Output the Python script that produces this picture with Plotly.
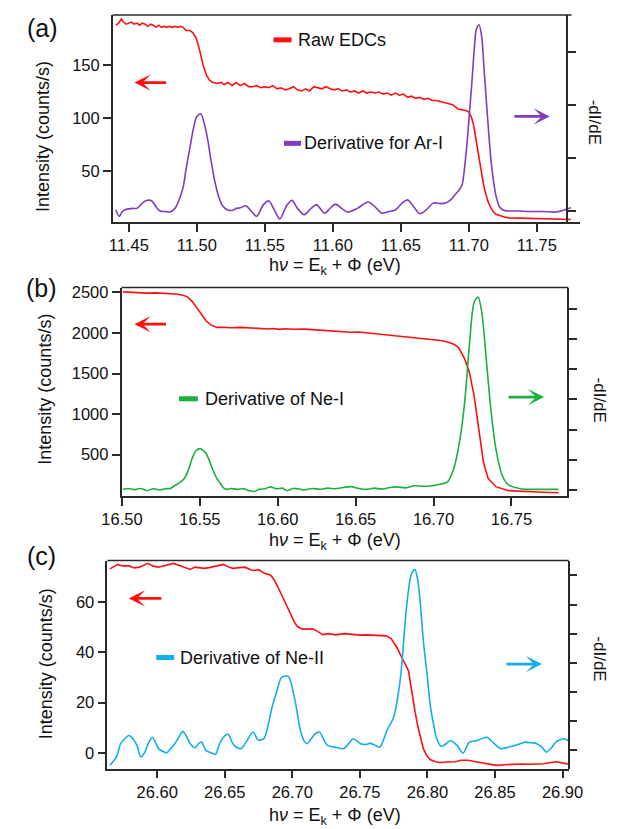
import plotly.graph_objects as go

W, H = 631, 829

# ---------------- data: (a) Ar-I ----------------
ar_raw_x = [11.4405, 11.4425, 11.4445, 11.4460, 11.4480, 11.4500, 11.4520, 11.4540, 11.4560, 11.4580,
            11.4600, 11.4620, 11.4640, 11.4660, 11.4680, 11.4700, 11.4720, 11.4740, 11.4760, 11.4780,
            11.4800, 11.4820, 11.4840, 11.4860, 11.4880, 11.4900, 11.4920, 11.4950, 11.4970, 11.4995,
            11.5020, 11.5045, 11.5070, 11.5095, 11.5120, 11.5150, 11.5180, 11.5200, 11.5230, 11.5260,
            11.5290, 11.5320, 11.5350, 11.5380, 11.5410, 11.5440, 11.5470, 11.5500, 11.5530, 11.5560,
            11.5590, 11.5620, 11.5650, 11.5680, 11.5710, 11.5740, 11.5770, 11.5800, 11.5830, 11.5860,
            11.5890, 11.5920, 11.5950, 11.5980, 11.6010, 11.6040, 11.6070, 11.6100, 11.6130, 11.6160,
            11.6190, 11.6220, 11.6250, 11.6280, 11.6310, 11.6340, 11.6370, 11.6400, 11.6430, 11.6460,
            11.6490, 11.6520, 11.6550, 11.6580, 11.6610, 11.6640, 11.6670, 11.6700, 11.6730, 11.6760,
            11.6790, 11.6820, 11.6850, 11.6880, 11.6920, 11.6950, 11.6980, 11.7000, 11.7020, 11.7035,
            11.7050, 11.7070, 11.7090, 11.7105, 11.7120, 11.7140, 11.7160, 11.7180, 11.7200, 11.7230,
            11.7260, 11.7300, 11.7400, 11.7500, 11.7600, 11.7700, 11.7750]
ar_raw_y = [188, 190, 194, 191, 189, 190, 191, 189, 190, 188,
            190, 189, 187, 189, 188, 186, 188, 186, 187, 186,
            187, 186, 187, 186, 187, 186, 183, 183, 181, 176,
            165, 151, 141, 136, 134, 133, 134, 132, 134, 131,
            134, 131, 133, 130, 130, 131, 129, 130, 129, 131,
            128, 129, 127, 128, 130, 127, 126, 128, 126, 130,
            129, 128, 130, 128, 127, 128, 126, 127, 125, 126,
            124, 126, 124, 125, 124, 125, 123, 124, 122, 124,
            122, 123, 120, 121, 119, 120, 118, 119, 117, 117,
            116, 115, 114, 113, 109, 108, 107.5, 106, 101, 94,
            82, 68, 52, 40, 31, 22, 16, 12, 9.5, 8,
            7, 6.2, 5.8, 5.5, 5.2, 5, 4.6]

ar_deriv_x = [11.4405, 11.4430, 11.4450, 11.4470, 11.4500, 11.4530, 11.4560, 11.4600, 11.4630, 11.4670,
              11.4700, 11.4730, 11.4770, 11.4800, 11.4840, 11.4870, 11.4900, 11.4920, 11.4950, 11.4975,
              11.5000, 11.5030, 11.5055, 11.5080, 11.5105, 11.5130, 11.5160, 11.5190, 11.5220, 11.5260,
              11.5290, 11.5320, 11.5360, 11.5400, 11.5440, 11.5490, 11.5530, 11.5570, 11.5610, 11.5660,
              11.5700, 11.5740, 11.5790, 11.5840, 11.5880, 11.5940, 11.5980, 11.6020, 11.6070, 11.6110,
              11.6180, 11.6260, 11.6310, 11.6360, 11.6410, 11.6460, 11.6510, 11.6550, 11.6600, 11.6640,
              11.6690, 11.6740, 11.6790, 11.6830, 11.6870, 11.6900, 11.6930, 11.6950, 11.6980, 11.7000,
              11.7020, 11.7040, 11.7055, 11.7075, 11.7095, 11.7110, 11.7130, 11.7150, 11.7165, 11.7185,
              11.7200, 11.7225, 11.7250, 11.7300, 11.7365, 11.7450, 11.7550, 11.7640, 11.7700, 11.7750]
ar_deriv_y = [0.02, -0.10, -0.02, 0.02, 0.04, 0.05, 0.05, 0.15, 0.20, 0.19,
              0.08, 0.00, -0.01, -0.02, 0.05, 0.21, 0.45, 0.77, 1.20, 1.55,
              1.78, 1.83, 1.65, 1.35, 0.95, 0.59, 0.28, 0.10, 0.03, 0.01,
              0.05, 0.06, 0.10, 0.00, -0.10, 0.12, 0.19, 0.02, -0.15, 0.10,
              0.20, 0.05, -0.07, 0.05, 0.12, -0.04, 0.05, 0.13, 0.04, -0.02,
              0.05, 0.17, 0.08, -0.04, -0.01, 0.02, 0.15, 0.21, 0.06, -0.05,
              0.03, 0.15, 0.14, 0.15, 0.22, 0.31, 0.40, 0.49, 1.09, 1.70,
              2.34, 3.05, 3.42, 3.51, 3.28, 2.75, 2.03, 1.35, 0.90, 0.50,
              0.28, 0.08, 0.02, 0.00, 0.00, -0.01, -0.01, -0.02, 0.02, 0.06]

# ---------------- data: (b) Ne-I ----------------
nei_raw_x = [16.5006, 16.5060, 16.5100, 16.5160, 16.5220, 16.5280, 16.5330, 16.5360, 16.5390, 16.5420,
             16.5450, 16.5480, 16.5510, 16.5540, 16.5570, 16.5610, 16.5650, 16.5700, 16.5760, 16.5820,
             16.5880, 16.5940, 16.5970, 16.6010, 16.6050, 16.6100, 16.6170, 16.6230, 16.6270, 16.6320,
             16.6370, 16.6420, 16.6470, 16.6520, 16.6580, 16.6640, 16.6700, 16.6780, 16.6840, 16.6900,
             16.6960, 16.7020, 16.7060, 16.7100, 16.7130, 16.7160, 16.7180, 16.7200, 16.7230, 16.7260,
             16.7290, 16.7320, 16.7350, 16.7400, 16.7480, 16.7580, 16.7700, 16.7803]
nei_raw_y = [2507, 2500, 2503, 2492, 2495, 2490, 2486, 2478, 2466, 2446,
             2390, 2315, 2230, 2151, 2100, 2069, 2070, 2065, 2069, 2062,
             2060, 2050, 2056, 2045, 2052, 2046, 2048, 2040, 2036, 2030,
             2028, 2020, 2010, 2012, 2000, 1992, 1985, 1960, 1950, 1940,
             1930, 1918, 1905, 1884, 1860, 1823, 1760, 1680, 1516, 1230,
             820, 410, 205, 103, 54, 42, 34, 29]

nei_deriv_x = [16.5006, 16.5040, 16.5080, 16.5120, 16.5160, 16.5200, 16.5240, 16.5280, 16.5310, 16.5340,
               16.5370, 16.5400, 16.5425, 16.5450, 16.5475, 16.5500, 16.5520, 16.5540, 16.5560, 16.5580,
               16.5605, 16.5630, 16.5650, 16.5670, 16.5700, 16.5740, 16.5780, 16.5820, 16.5850, 16.5880,
               16.5920, 16.5950, 16.5990, 16.6030, 16.6060, 16.6100, 16.6140, 16.6170, 16.6220, 16.6270,
               16.6320, 16.6370, 16.6420, 16.6470, 16.6520, 16.6570, 16.6620, 16.6670, 16.6720, 16.6770,
               16.6820, 16.6880, 16.6940, 16.7000, 16.7040, 16.7090, 16.7130, 16.7170, 16.7200, 16.7230,
               16.7260, 16.7286, 16.7310, 16.7340, 16.7370, 16.7400, 16.7440, 16.7470, 16.7504, 16.7550,
               16.7585, 16.7650, 16.7720, 16.7803]
nei_deriv_y = [0.02, 0.05, 0.01, 0.05, -0.02, 0.04, 0.00, 0.04, 0.05, 0.15,
               0.24, 0.38, 0.65, 1.04, 1.30, 1.37, 1.32, 1.21, 0.98, 0.71,
               0.42, 0.22, 0.08, 0.02, 0.05, 0.02, 0.04, -0.03, -0.05, 0.02,
               0.04, 0.10, 0.04, 0.06, -0.02, 0.05, 0.03, 0.00, 0.05, 0.02,
               0.06, 0.04, 0.08, 0.11, 0.05, 0.02, 0.06, 0.03, 0.08, 0.10,
               0.07, 0.14, 0.12, 0.15, 0.19, 0.27, 0.71, 1.70, 2.91, 4.79,
               6.21, 6.40, 5.88, 4.23, 2.58, 1.37, 0.49, 0.22, 0.11, 0.05,
               0.02, 0.02, 0.02, 0.02]

# ---------------- data: (c) Ne-II ----------------
neii_raw_x = [26.5650, 26.5680, 26.5710, 26.5740, 26.5790, 26.5830, 26.5870, 26.5930, 26.5970, 26.6010,
              26.6060, 26.6120, 26.6175, 26.6210, 26.6245, 26.6280, 26.6315, 26.6350, 26.6385, 26.6430,
              26.6490, 26.6530, 26.6560, 26.6610, 26.6650, 26.6690, 26.6720, 26.6750, 26.6790, 26.6840,
              26.6865, 26.6890, 26.6920, 26.6950, 26.6975, 26.7000, 26.7020, 26.7040, 26.7070, 26.7110,
              26.7150, 26.7180, 26.7226, 26.7270, 26.7320, 26.7390, 26.7440, 26.7500, 26.7555, 26.7620,
              26.7695, 26.7730, 26.7750, 26.7775, 26.7798, 26.7830, 26.7860, 26.7875, 26.7890, 26.7910,
              26.7930, 26.7950, 26.7970, 26.7995, 26.8020, 26.8060, 26.8090, 26.8150, 26.8206, 26.8250,
              26.8300, 26.8350, 26.8390, 26.8450, 26.8510, 26.8570, 26.8626, 26.8700, 26.8766, 26.8860,
              26.8950, 26.9000, 26.9058]
neii_raw_y = [73.1, 74.0, 74.9, 74.3, 74.3, 73.5, 73.8, 75.3, 74.2, 73.8,
              74.5, 75.3, 74.3, 73.6, 72.9, 73.8, 73.6, 73.3, 73.6, 74.2,
              74.9, 73.9, 73.3, 73.6, 73.8, 72.8, 72.5, 72.8, 71.5, 70.6,
              68.8, 66.3, 63.0, 59.7, 56.5, 53.8, 51.5, 50.1, 49.3, 49.2,
              49.3, 48.5, 47.0, 47.4, 46.9, 47.4, 47.0, 46.8, 46.9, 46.6,
              46.5, 45.5, 43.9, 41.8, 39.3, 36.0, 32.7, 27.5, 22.1, 16.0,
              10.3, 5.5, 1.7, -1.0, -2.6, -3.5, -3.8, -3.6, -3.5, -2.9,
              -2.9, -3.4, -3.8, -4.5, -4.9, -4.7, -4.5, -4.4, -4.5, -4.3,
              -3.5, -4.0, -4.5]

neii_deriv_x = [26.5650, 26.5697, 26.5730, 26.5760, 26.5790, 26.5820, 26.5850, 26.5880, 26.5910, 26.5940,
                26.5965, 26.5990, 26.6010, 26.6040, 26.6070, 26.6100, 26.6130, 26.6160, 26.6190, 26.6215,
                26.6245, 26.6280, 26.6310, 26.6330, 26.6360, 26.6400, 26.6430, 26.6460, 26.6490, 26.6525,
                26.6560, 26.6590, 26.6620, 26.6660, 26.6710, 26.6747, 26.6790, 26.6820, 26.6850, 26.6890,
                26.6920, 26.6970, 26.7015, 26.7040, 26.7060, 26.7090, 26.7110, 26.7140, 26.7170, 26.7200,
                26.7230, 26.7260, 26.7320, 26.7380, 26.7420, 26.7450, 26.7506, 26.7540, 26.7576, 26.7610,
                26.7646, 26.7670, 26.7700, 26.7750, 26.7798, 26.7820, 26.7840, 26.7860, 26.7880, 26.7907,
                26.7930, 26.7950, 26.7970, 26.8000, 26.8020, 26.8045, 26.8066, 26.8100, 26.8130, 26.8170,
                26.8200, 26.8220, 26.8264, 26.8310, 26.8370, 26.8440, 26.8490, 26.8544, 26.8590, 26.8626,
                26.8670, 26.8720, 26.8770, 26.8810, 26.8850, 26.8880, 26.8920, 26.8950, 26.9010, 26.9058]
neii_deriv_y = [-0.51, -0.23, 0.23, 0.40, 0.51, 0.40, 0.17, -0.23, -0.05, 0.30,
                0.45, 0.25, 0.06, -0.03, -0.08, 0.06, 0.23, 0.45, 0.65, 0.50,
                0.23, 0.09, 0.25, 0.28, 0.00, -0.08, -0.14, 0.20, 0.45, 0.55,
                0.23, 0.10, 0.06, 0.30, 0.63, 0.36, 0.40, 0.85, 1.48, 2.10,
                2.50, 2.54, 1.82, 1.20, 0.68, 0.30, 0.23, 0.40, 0.57, 0.63,
                0.40, 0.17, 0.11, 0.06, 0.25, 0.40, 0.23, 0.20, 0.24, 0.18,
                0.11, 0.30, 0.68, 1.14, 2.39, 3.50, 4.66, 5.50, 6.03, 6.20,
                5.80, 4.90, 3.75, 2.50, 1.59, 0.90, 0.45, 0.14, 0.20, 0.34,
                0.25, 0.17, -0.09, 0.28, 0.34, 0.45, 0.25, 0.06, 0.10, 0.14,
                0.20, 0.28, 0.26, 0.23, 0.10, -0.06, 0.10, 0.28, 0.40, 0.28]

# ---------------- tick values ----------------
a_xticks = [11.45, 11.50, 11.55, 11.60, 11.65, 11.70, 11.75]
b_xticks = [16.50, 16.55, 16.60, 16.65, 16.70, 16.75]
c_xticks = [26.60, 26.65, 26.70, 26.75, 26.80, 26.85, 26.90]
a_yticks = [50, 100, 150]
b_yticks = [500, 1000, 1500, 2000, 2500]
c_yticks = [0, 20, 40, 60]
a_dticks = [0, 1, 2, 3]
b_dticks = [0, 1, 2, 3, 4, 5, 6]
c_dticks = [0, 1, 2, 3, 4, 5, 6]

RED = "#FF1010"
PURPLE = "#7E3DBE"
GREEN = "#1BAF3E"
BLUE = "#12ADEA"
AXC = "#2a2a2a"
FONT = "Liberation Sans, Arial, Helvetica, sans-serif"


def fx(p):
    return p / W


def fy(p):
    return 1 - p / H


fig = go.Figure()

fig.add_trace(go.Scatter(x=ar_raw_x, y=ar_raw_y, xaxis="x", yaxis="y", mode="lines",
                         line=dict(color=RED, width=1.6), name="Raw EDCs"))
fig.add_trace(go.Scatter(x=ar_deriv_x, y=ar_deriv_y, xaxis="x", yaxis="y2", mode="lines",
                         line=dict(color=PURPLE, width=1.6, shape="spline", smoothing=0.8),
                         name="Derivative for Ar-I"))
fig.add_trace(go.Scatter(x=nei_raw_x, y=nei_raw_y, xaxis="x2", yaxis="y3", mode="lines",
                         line=dict(color=RED, width=1.6), name="Raw EDC Ne-I"))
fig.add_trace(go.Scatter(x=nei_deriv_x, y=nei_deriv_y, xaxis="x2", yaxis="y4", mode="lines",
                         line=dict(color=GREEN, width=1.6, shape="spline", smoothing=0.8),
                         name="Derivative of Ne-I"))
fig.add_trace(go.Scatter(x=neii_raw_x, y=neii_raw_y, xaxis="x3", yaxis="y5", mode="lines",
                         line=dict(color=RED, width=1.6), name="Raw EDC Ne-II"))
fig.add_trace(go.Scatter(x=neii_deriv_x, y=neii_deriv_y, xaxis="x3", yaxis="y6", mode="lines",
                         line=dict(color=BLUE, width=1.6, shape="spline", smoothing=0.8),
                         name="Derivative of Ne-II"))

tickfont = dict(family=FONT, size=16.5, color="#111")


def xax(dom, rng, ticks, anchor):
    return dict(domain=dom, range=rng, anchor=anchor, tickvals=ticks,
                ticktext=[f"{t:.2f}" for t in ticks], showline=True, linecolor=AXC,
                linewidth=1.5, ticks="outside", ticklen=8, tickwidth=1.5, tickcolor=AXC,
                showgrid=False, zeroline=False, tickfont=tickfont)


def yax(dom, rng, ticks, anchor):
    return dict(domain=dom, range=rng, anchor=anchor, tickvals=ticks,
                showline=True, linecolor=AXC, linewidth=1.5, ticks="outside", ticklen=8,
                tickwidth=1.5, tickcolor=AXC, showgrid=False, zeroline=False, tickfont=tickfont)


def y2ax(over, rng, ticks, pos):
    return dict(overlaying=over, range=rng, side="right", anchor="free", position=pos,
                tickvals=ticks, showticklabels=False, showline=True, linecolor=AXC,
                linewidth=1.5, ticks="outside", ticklen=8, tickwidth=1.8, tickcolor=AXC,
                showgrid=False, zeroline=False)


# panel frames (pixel extents)
A = dict(l=98, r=592, t=11, b=219, ra=578)
B = dict(l=107.3, r=580, t=285, b=494.3, ra=579.5)
C = dict(l=92.3, r=580, t=559.3, b=768.3, ra=580)

layout = dict(
    width=W, height=H, margin=dict(l=0, r=0, t=0, b=0),
    paper_bgcolor="white", plot_bgcolor="rgba(0,0,0,0)", showlegend=False,
    xaxis=xax([fx(A["l"]), fx(A["r"])], [11.4382, 11.7818], a_xticks, "y"),
    yaxis=yax([fy(A["b"]), fy(A["t"])], [2.35, 197.7], a_yticks, "x"),
    yaxis2=y2ax("y", [-0.206, 3.696], a_dticks, fx(A["ra"])),
    xaxis2=xax([fx(B["l"]), fx(B["r"])], [16.4997, 16.7868], b_xticks, "y3"),
    yaxis3=yax([fy(B["b"]), fy(B["t"])], [-11, 2560], b_yticks, "x2"),
    yaxis4=y2ax("y3", [-0.198, 6.71], b_dticks, fx(B["ra"])),
    xaxis3=xax([fx(C["l"]), fx(C["r"])], [26.5631, 26.9046], c_xticks, "y5"),
    yaxis5=yax([fy(C["b"]), fy(C["t"])], [-6.2, 76.4], c_yticks, "x3"),
    yaxis6=y2ax("y5", [-0.625, 6.51], c_dticks, fx(C["ra"])),
)
fig.update_layout(**layout)

shapes = []
# top frame lines
for P, right in ((A, 583), (B, B["ra"]), (C, C["ra"])):
    shapes.append(dict(type="line", xref="paper", yref="paper", x0=fx(P["l"]), x1=fx(right),
                       y0=fy(P["t"]), y1=fy(P["t"]), line=dict(color=AXC, width=1.5)))
# legend swatches
for x0, x1, yy, col in ((268, 287, 36, RED), (279, 297, 140, PURPLE),
                        (168, 188, 396.7, GREEN), (144, 163, 656.7, BLUE)):
    shapes.append(dict(type="line", xref="paper", yref="paper", x0=fx(x0), x1=fx(x1),
                       y0=fy(yy), y1=fy(yy), line=dict(color=col, width=5)))
fig.update_layout(shapes=shapes)

ann = []
txtfont = dict(family=FONT, size=18, color="#111")
# legend labels
for xx, yy, t in ((292, 36, "Raw EDCs"), (298, 140, "Derivative for Ar-I"),
                  (193, 396.7, "Derivative of Ne-I"), (167, 656.7, "Derivative of Ne-II")):
    ann.append(dict(text=t, x=fx(xx), y=fy(yy), xref="paper", yref="paper", xanchor="left",
                    yanchor="middle", showarrow=False, font=txtfont))
# panel labels
for xx, yy, t in ((24, 24, "(a)"), (23, 285, "(b)"), (23, 555, "(c)")):
    ann.append(dict(text=t, x=fx(xx), y=fy(yy), xref="paper", yref="paper", xanchor="center",
                    yanchor="middle", showarrow=False, font=dict(family=FONT, size=25, color="#111")))
# axis titles
xtitle = "h<i>ν</i> = E<sub>k</sub> + Φ (eV)"
for yy in (264, 540, 816):
    ann.append(dict(text=xtitle, x=fx(332.5), y=fy(yy), xref="paper", yref="paper",
                    xanchor="center", yanchor="middle", showarrow=False, font=txtfont))
for xx, yy in ((25, 133), (27, 387), (27, 663)):
    ann.append(dict(text="Intensity (counts/s)", x=fx(xx), y=fy(yy), xref="paper", yref="paper",
                    xanchor="center", yanchor="middle", textangle=-90, showarrow=False,
                    font=txtfont))
for xx, yy in ((607, 118.5), (612, 397.5), (613, 658.5)):
    ann.append(dict(text="-dI/dE", x=fx(xx), y=fy(yy), xref="paper", yref="paper",
                    xanchor="center", yanchor="middle", textangle=90, showarrow=False,
                    font=dict(family=FONT, size=17, color="#111")))
# axis-pointing arrows
for hx, hy, axo, col in ((121, 79, 33, RED), (560, 113, -37, PURPLE),
                         (121, 321.7, 33, RED), (554, 395, -37, GREEN),
                         (115, 597.3, 34, RED), (551.7, 663.3, -37, BLUE)):
    ann.append(dict(text="", x=fx(hx), y=fy(hy), xref="paper", yref="paper", ax=axo, ay=0,
                    showarrow=True, arrowhead=3, arrowsize=1.0, arrowwidth=2.7,
                    arrowcolor=col))
fig.update_layout(annotations=ann)

fig.write_html("out.html")
